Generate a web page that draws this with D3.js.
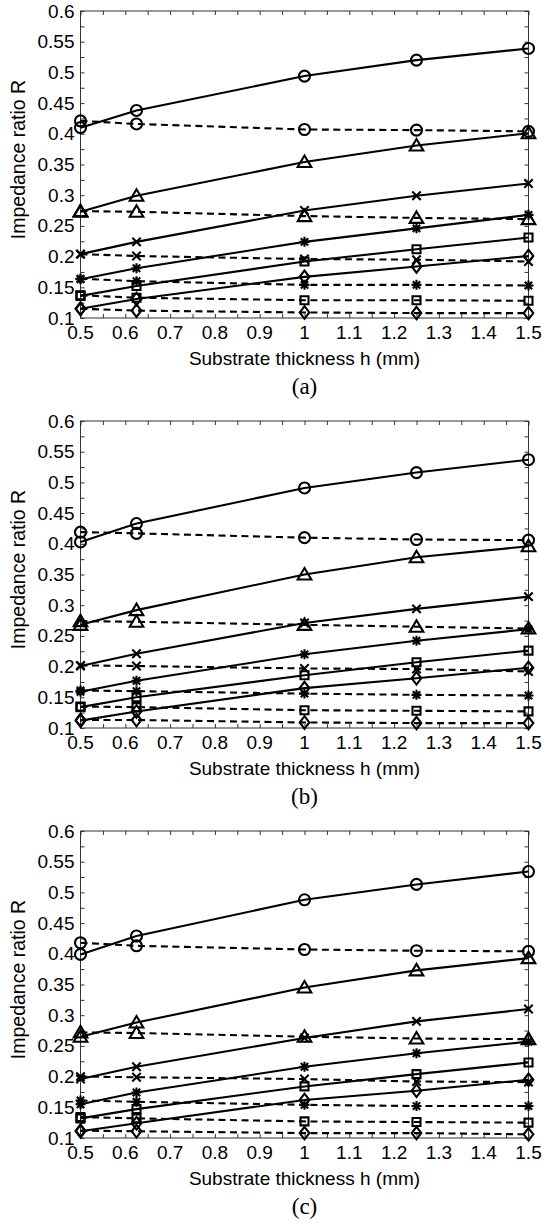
<!DOCTYPE html>
<html>
<head>
<meta charset="utf-8">
<script src="https://cdn.jsdelivr.net/npm/d3@7"></script>
<style>
  body { margin: 0; background: #fff; }
  svg { display: block; }
</style>
</head>
<body>
<div id="chart"></div>
<script>
// substrate thickness values (mm)
var hValues = [0.5, 0.625, 1.0, 1.25, 1.5];
var markerTypes = ["circle", "triangle", "x", "asterisk", "square", "diamond"];
var panelLabels = ["(a)", "(b)", "(c)"];
var xTicks = [0.5, 0.55, 0.6, 0.65, 0.7, 0.75, 0.8, 0.85, 0.9, 0.95, 1, 1.05, 1.1, 1.15, 1.2, 1.25, 1.3, 1.35, 1.4, 1.45, 1.5];
var xTickLabels = [0.5, 0.6, 0.7, 0.8, 0.9, 1, 1.1, 1.2, 1.3, 1.4, 1.5];
var yTicks = [0.1, 0.125, 0.15, 0.175, 0.2, 0.225, 0.25, 0.275, 0.3, 0.325, 0.35, 0.375, 0.4, 0.425, 0.45, 0.475, 0.5, 0.525, 0.55, 0.575, 0.6];
var yTickLabels = [0.1, 0.15, 0.2, 0.25, 0.3, 0.35, 0.4, 0.45, 0.5, 0.55, 0.6];

// panel (a): one row per marker type
var solidA = [
  [0.410, 0.438, 0.494, 0.520, 0.539],
  [0.273, 0.299, 0.354, 0.381, 0.401],
  [0.204, 0.224, 0.275, 0.299, 0.319],
  [0.163, 0.181, 0.224, 0.246, 0.268],
  [0.136, 0.152, 0.192, 0.212, 0.231],
  [0.115, 0.131, 0.167, 0.184, 0.201]
];
var dashedA = [
  [0.421, 0.416, 0.407, 0.406, 0.404],
  [0.274, 0.273, 0.266, 0.263, 0.261],
  [0.204, 0.201, 0.196, 0.195, 0.192],
  [0.164, 0.160, 0.154, 0.154, 0.153],
  [0.137, 0.133, 0.129, 0.129, 0.128],
  [0.115, 0.112, 0.109, 0.108, 0.108]
];

// panel (b)
var solidB = [
  [0.403, 0.433, 0.491, 0.516, 0.537],
  [0.268, 0.292, 0.350, 0.378, 0.396],
  [0.201, 0.221, 0.271, 0.294, 0.314],
  [0.159, 0.177, 0.220, 0.242, 0.261],
  [0.134, 0.150, 0.186, 0.207, 0.226],
  [0.112, 0.127, 0.165, 0.181, 0.198]
];
var dashedB = [
  [0.419, 0.417, 0.410, 0.407, 0.406],
  [0.274, 0.273, 0.268, 0.265, 0.262],
  [0.202, 0.201, 0.197, 0.196, 0.192],
  [0.161, 0.160, 0.156, 0.154, 0.153],
  [0.135, 0.134, 0.129, 0.128, 0.127],
  [0.113, 0.113, 0.109, 0.108, 0.108]
];

// panel (c)
var solidC = [
  [0.399, 0.429, 0.488, 0.513, 0.534],
  [0.265, 0.288, 0.345, 0.373, 0.393],
  [0.196, 0.216, 0.263, 0.290, 0.310],
  [0.155, 0.174, 0.216, 0.238, 0.257],
  [0.132, 0.147, 0.184, 0.204, 0.223],
  [0.111, 0.124, 0.162, 0.177, 0.195]
];
var dashedC = [
  [0.418, 0.413, 0.407, 0.405, 0.404],
  [0.272, 0.271, 0.265, 0.262, 0.261],
  [0.200, 0.199, 0.196, 0.192, 0.191],
  [0.161, 0.159, 0.154, 0.152, 0.152],
  [0.134, 0.132, 0.127, 0.126, 0.125],
  [0.112, 0.111, 0.108, 0.108, 0.106]
];

var panels = [
  { solid: solidA, dashed: dashedA, top: 11 },
  { solid: solidB, dashed: dashedB, top: 421 },
  { solid: solidC, dashed: dashedC, top: 831 }
];

var W = 542, H = 1224;
var left = 80.5, right = 528.5, plotH = 307;
var tickLen = 4;
var sans = "Liberation Sans, Arial, sans-serif";

var svg = d3.select("#chart").append("svg")
  .attr("width", W)
  .attr("height", H);

function markerPath(type) {
  if (type == "circle") return d3.symbol().type(d3.symbolCircle).size(Math.PI * 5.5 * 5.5)();
  if (type == "triangle") return "M0,-6.5L6.8,5L-6.8,5Z";
  if (type == "square") return "M-4,-4H4V4H-4Z";
  if (type == "diamond") return "M0,-6.3L4.8,0L0,6.3L-4.8,0Z";
  if (type == "x") return "M-4.2,-4.2L4.2,4.2M-4.2,4.2L4.2,-4.2";
  if (type == "asterisk") return "M-5,0H5M0,-5V5M-3.7,-3.7L3.7,3.7M-3.7,3.7L3.7,-3.7";
}

panels.forEach(function (p, pi) {
  var g = svg.append("g").attr("transform", "translate(0," + p.top + ")");

  var x = d3.scaleLinear().domain([0.5, 1.5]).range([left, right]);
  var y = d3.scaleLinear().domain([0.1, 0.6]).range([plotH, 0]);

  // inward ticks on all four sides
  function noDomain(a) { a.select(".domain").remove(); }
  g.append("g")
    .attr("transform", "translate(0," + plotH + ")")
    .call(d3.axisTop(x).tickValues(xTicks).tickSize(tickLen).tickFormat(""))
    .call(noDomain);
  g.append("g")
    .call(d3.axisBottom(x).tickValues(xTicks).tickSize(tickLen).tickFormat(""))
    .call(noDomain);
  g.append("g")
    .attr("transform", "translate(" + left + ",0)")
    .call(d3.axisRight(y).tickValues(yTicks).tickSize(tickLen).tickFormat(""))
    .call(noDomain);
  g.append("g")
    .attr("transform", "translate(" + right + ",0)")
    .call(d3.axisLeft(y).tickValues(yTicks).tickSize(tickLen).tickFormat(""))
    .call(noDomain);
  g.selectAll(".tick line").attr("stroke", "#333").attr("stroke-width", 1);

  // box
  g.append("rect")
    .attr("x", left).attr("y", 0)
    .attr("width", right - left).attr("height", plotH)
    .attr("fill", "none").attr("stroke", "#333").attr("stroke-width", 1);

  // tick labels
  g.selectAll(".xl").data(xTickLabels).enter().append("text")
    .attr("x", function (d) { return x(d); })
    .attr("y", plotH + 21)
    .attr("text-anchor", "middle")
    .style("font-family", sans)
    .style("font-size", "19px")
    .text(function (d) { return d3.format("~g")(d); });
  g.selectAll(".yl").data(yTickLabels).enter().append("text")
    .attr("x", left - 6)
    .attr("y", function (d) { return y(d) + 6.5; })
    .attr("text-anchor", "end")
    .style("font-family", sans)
    .style("font-size", "19px")
    .text(function (d) { return d3.format("~g")(d); });

  g.append("text")
    .attr("x", (left + right) / 2)
    .attr("y", plotH + 47)
    .attr("text-anchor", "middle")
    .style("font-family", sans)
    .style("font-size", "19px")
    .text("Substrate thickness h (mm)");

  g.append("text")
    .attr("transform", "translate(25," + (plotH / 2 - 5) + ") rotate(-90)")
    .attr("text-anchor", "middle")
    .style("font-family", sans)
    .style("font-size", "19.5px")
    .text("Impedance ratio R");

  g.append("text")
    .attr("x", (left + right) / 2)
    .attr("y", plotH + 76)
    .attr("text-anchor", "middle")
    .style("font-family", "Liberation Serif, Times New Roman, serif")
    .style("font-size", "23px")
    .text(panelLabels[pi]);

  var line = d3.line()
    .x(function (d, i) { return x(hValues[i]); })
    .y(function (d) { return y(d); });

  function drawSeries(rows, dashed) {
    rows.forEach(function (vals, k) {
      g.append("path")
        .datum(vals)
        .attr("d", line)
        .attr("fill", "none")
        .attr("stroke", "#000")
        .attr("stroke-width", 2.1)
        .attr("stroke-dasharray", dashed ? "7,4.5" : null);
      g.selectAll(".m" + k + (dashed ? "d" : "s"))
        .data(vals)
        .enter().append("path")
        .attr("transform", function (d, i) { return "translate(" + x(hValues[i]) + "," + y(d) + ")"; })
        .attr("d", markerPath(markerTypes[k]))
        .attr("fill", "none")
        .attr("stroke", "#000")
        .attr("stroke-width", 2.1);
    });
  }
  drawSeries(p.dashed, true);
  drawSeries(p.solid, false);
});
</script>
</body>
</html>
